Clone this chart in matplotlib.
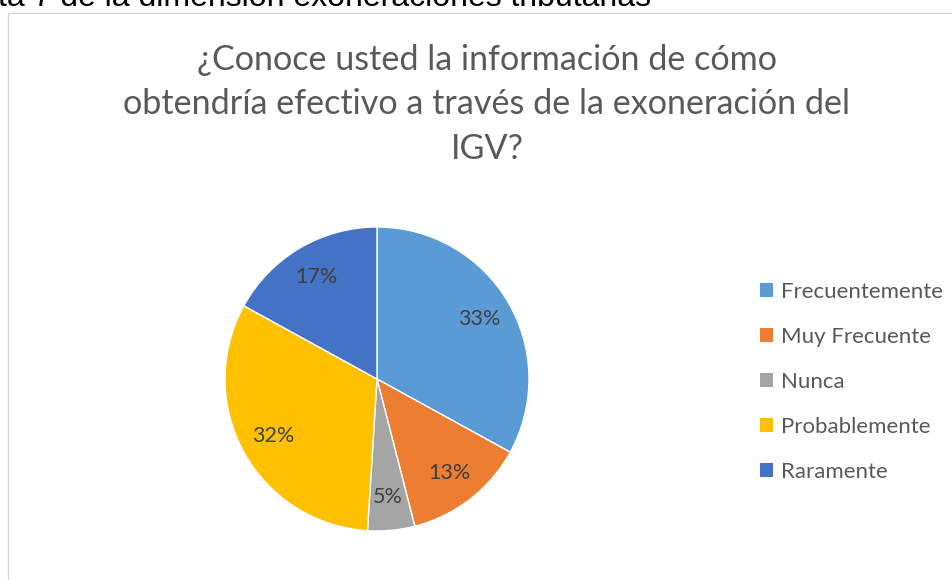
import matplotlib.pyplot as plt
from matplotlib.patches import Rectangle, Patch

# Data
categorias = ['Frecuentemente', 'Muy Frecuente', 'Nunca', 'Probablemente', 'Raramente']
porcentajes = [33, 13, 5, 32, 17]
colores = ['#5B9BD5', '#ED7D31', '#A5A5A5', '#FFC000', '#4472C4']

titulo = ['¿Conoce usted la información de cómo',
          'obtendría efectivo a través de la exoneración del',
          'IGV?']
leyenda_doc = 'ta 7 de la dimensión exoneraciones tributarias'

W, H = 953, 580
fig = plt.figure(figsize=(W / 100, H / 100), dpi=100)

# caption from the document, cut off at the top edge
fig.text(-2 / W, 1 - 5.5 / H, leyenda_doc, family='Liberation Sans', fontsize=23,
         color='black', ha='left', va='baseline')

# chart frame
fig.patches.append(Rectangle((8 / W, -0.1), 1.2, 1 - 12.5 / H + 0.1, transform=fig.transFigure,
                             fill=False, edgecolor='#D9D9D9', linewidth=1))

# title, one line at a time
for linea, base in zip(titulo, [70, 114.5, 159]):
    fig.text(487 / W, 1 - base / H, linea, family='Lato', fontsize=24.6, color='#595959',
             ha='center', va='baseline')

# pie
cx, cy, r = 377, 379, 152
ax = fig.add_axes([(cx - r) / W, (H - cy - r) / H, 2 * r / W, 2 * r / H])
wedges, _, autotexts = ax.pie(porcentajes, colors=colores, startangle=90, counterclock=False,
                              autopct='%d%%', pctdistance=0.78, radius=1,
                              wedgeprops=dict(edgecolor='white', linewidth=1))
for t in autotexts:
    t.set_family('Lato')
    t.set_fontsize(15.5)
    t.set_color('#404040')
ax.set_xlim(-1, 1)
ax.set_ylim(-1, 1)
ax.set_aspect('equal')
ax.axis('off')

handles = [Patch(facecolor=c, edgecolor='none') for c in colores]
leg = fig.legend(handles, categorias, loc='upper left', bbox_to_anchor=(749 / W, 1 - 271 / H),
                 frameon=False, prop={'family': 'Lato', 'size': 16}, handlelength=0.6,
                 handleheight=0.6, handletextpad=0.35, labelspacing=1.12, borderpad=0)
for t in leg.get_texts():
    t.set_color('#595959')

fig.savefig('out.png', dpi=100)
